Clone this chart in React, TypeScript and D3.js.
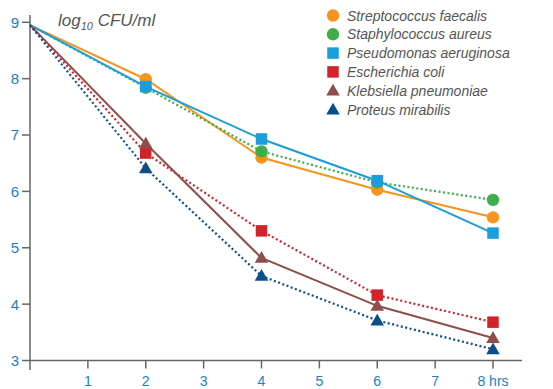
import React from "react";
import * as d3 from "d3";

const hours = [0, 2, 4, 6, 8];
const xTicks = [1, 2, 3, 4, 5, 6, 7, 8];
const yTicks = [3, 4, 5, 6, 7, 8, 9];

const seriesNames = [
  "Streptococcus faecalis",
  "Staphylococcus aureus",
  "Pseudomonas aeruginosa",
  "Escherichia coli",
  "Klebsiella pneumoniae",
  "Proteus mirabilis",
];
const streptococcus = [8.95, 7.99, 6.6, 6.03, 5.54];
const staphylococcus = [8.95, 7.84, 6.71, 6.16, 5.85];
const pseudomonas = [8.95, 7.86, 6.93, 6.19, 5.26];
const escherichia = [8.95, 6.68, 5.3, 4.16, 3.68];
const klebsiella = [8.95, 6.85, 4.82, 3.97, 3.4];
const proteus = [8.95, 6.41, 4.5, 3.71, 3.2];

const colors = ["#F7941D", "#3DAE49", "#1B9DD9", "#D2232A", "#8E4F4B", "#0B4F8A"];
const shapes = ["circle", "circle", "square", "square", "triangle", "triangle"];
const dotted = [false, true, false, true, false, true];
const values = [streptococcus, staphylococcus, pseudomonas, escherichia, klebsiella, proteus];

const x = d3.scaleLinear().domain([0, 8]).range([30, 493]);
const y = d3.scaleLinear().domain([3, 9]).range([360.5, 22.3]);

function Marker({ shape, cx, cy, color }: { shape: string; cx: number; cy: number; color: string }) {
  if (shape === "circle") {
    const p = d3.symbol().type(d3.symbolCircle).size(Math.PI * 6.2 * 6.2)();
    return <path d={p || ""} transform={`translate(${cx},${cy})`} fill={color} />;
  }
  if (shape === "square") {
    const p = d3.symbol().type(d3.symbolSquare).size(11.5 * 11.5)();
    return <path d={p || ""} transform={`translate(${cx},${cy})`} fill={color} />;
  }
  const p = d3.symbol().type(d3.symbolTriangle).size(80)();
  return <path d={p || ""} transform={`translate(${cx},${cy + 1})`} fill={color} />;
}

export default function App() {
  const line = d3
    .line<number>()
    .x((_, i) => x(hours[i]))
    .y((d) => y(d));
  const tickColor = "#1B7FC8";
  const axisColor = "#666";
  const font = "'Helvetica Neue', Helvetica, 'Liberation Sans', Arial, sans-serif";
  return (
    <svg
      width={553}
      height={389}
      style={{ position: "absolute", left: 0, top: 0, background: "#fff" }}
      fontFamily={font}
    >
      {/* axes */}
      <line x1={30} x2={30} y1={15} y2={370} stroke={axisColor} strokeWidth={1.5} />
      <line x1={30} x2={522} y1={y(3)} y2={y(3)} stroke={axisColor} strokeWidth={1.5} />
      {yTicks.map((t) => (
        <g key={"y" + t}>
          <line x1={22} x2={30} y1={y(t)} y2={y(t)} stroke={axisColor} strokeWidth={1.5} />
          <text x={19} y={y(t)} dy="0.36em" textAnchor="end" fontSize={15} fill={tickColor}>
            {t}
          </text>
        </g>
      ))}
      {xTicks.map((t) => (
        <g key={"x" + t}>
          <line x1={x(t)} x2={x(t)} y1={y(3)} y2={y(3) + 8} stroke={axisColor} strokeWidth={1.5} />
          <text x={x(t)} y={385.5} textAnchor="middle" fontSize={14} fill={tickColor}>
            {t === 8 ? "8 hrs" : t}
          </text>
        </g>
      ))}
      {/* title */}
      <text x={58} y={26} fontSize={17} fontStyle="italic" fill="#555">
        log
        <tspan fontSize={11} dy={4}>10</tspan>
        <tspan dy={-4}> CFU/ml</tspan>
      </text>
      {/* lines */}
      {values.map((v, i) => (
        <path
          key={"l" + i}
          d={line(v) || ""}
          fill="none"
          stroke={colors[i]}
          strokeWidth={dotted[i] ? 2.2 : 2}
          strokeDasharray={dotted[i] ? "2,2.5" : undefined}
        />
      ))}
      {/* markers */}
      {values.map((v, i) =>
        v.slice(1).map((d, j) => (
          <Marker key={`m${i}-${j}`} shape={shapes[i]} cx={x(hours[j + 1])} cy={y(d)} color={colors[i]} />
        ))
      )}
      {/* legend */}
      {seriesNames.map((n, i) => (
        <g key={"lg" + i} transform={`translate(333,${15.5 + i * 18.8})`}>
          <Marker shape={shapes[i]} cx={0} cy={0} color={colors[i]} />
          <text x={14} y={0} dy="0.36em" fontSize={14} fontStyle="italic" fill="#555">
            {n}
          </text>
        </g>
      ))}
    </svg>
  );
}
